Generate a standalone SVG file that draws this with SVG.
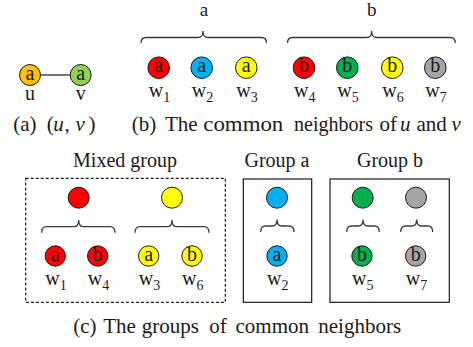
<svg xmlns="http://www.w3.org/2000/svg" width="473" height="347" viewBox="0 0 473 347">
<style>
text{font-family:"Liberation Serif","Times New Roman",serif;fill:#1a1a1a}
.c{font-size:21px}
.i{font-style:italic}
.in{font-size:20px;text-anchor:middle}
.lbl{font-size:20px;text-anchor:middle}
.top{font-size:19px;text-anchor:middle}
.sub{font-size:14px}
.n{stroke:#1a1a1a;stroke-width:1}
.br{fill:none;stroke:#3a3a3a;stroke-width:1.3}
.box{fill:none;stroke:#1a1a1a;stroke-width:1.2}
.dash{stroke-dasharray:3 2}
.edge{stroke:#555;stroke-width:1.6}
</style>
<rect width="473" height="347" fill="#fff"/>
<g id="connectors">
<line class="edge" x1="40" y1="75" x2="70" y2="75"/>
</g>
<!-- (a) -->
<g id="u"><circle class="n" cx="30" cy="75" r="10.5" fill="#FFC000"/><text class="in" x="30" y="79.5">a</text><text class="lbl" x="30" y="100">u</text></g>
<g id="v"><circle class="n" cx="80.7" cy="75" r="10.5" fill="#92D050"/><text class="in" x="80.7" y="79.5">a</text><text class="lbl" x="80.7" y="100">v</text></g>
<!-- (b) -->
<g id="brace-a"><path class="br" d="M141,43 Q141,37.5 146,37.5 L198,37.5 Q203,37.5 203,31 Q203,37.5 208,37.5 L261.5,37.5 Q266.5,37.5 266.5,43"/><text class="top" x="204" y="16">a</text></g>
<g id="brace-b"><path class="br" d="M287.5,43 Q287.5,37.5 292.5,37.5 L366.7,37.5 Q371.7,37.5 371.7,31 Q371.7,37.5 376.7,37.5 L450.3,37.5 Q455.3,37.5 455.3,43"/><text class="top" x="371.7" y="16">b</text></g>
<g id="w1"><circle class="n" cx="158.7" cy="67.7" r="10.8" fill="#FF0000"/><text class="in" x="158.7" y="72.2">a</text><text class="lbl" x="159.5" y="96.7">w<tspan class="sub" dy="5">1</tspan></text></g>
<g id="w2"><circle class="n" cx="201.7" cy="67.7" r="10.8" fill="#00B0F0"/><text class="in" x="201.7" y="72.2">a</text><text class="lbl" x="202.5" y="96.7">w<tspan class="sub" dy="5">2</tspan></text></g>
<g id="w3"><circle class="n" cx="246.3" cy="67.7" r="10.8" fill="#FFFF00"/><text class="in" x="246.3" y="72.2">a</text><text class="lbl" x="247.1" y="96.7">w<tspan class="sub" dy="5">3</tspan></text></g>
<g id="w4"><circle class="n" cx="304" cy="67.7" r="10.8" fill="#FF0000"/><text class="in" x="304" y="72.2">b</text><text class="lbl" x="304.8" y="96.7">w<tspan class="sub" dy="5">4</tspan></text></g>
<g id="w5"><circle class="n" cx="347.3" cy="67.7" r="10.8" fill="#00B050"/><text class="in" x="347.3" y="72.2">b</text><text class="lbl" x="348.1" y="96.7">w<tspan class="sub" dy="5">5</tspan></text></g>
<g id="w6"><circle class="n" cx="392.3" cy="67.7" r="10.8" fill="#FFFF00"/><text class="in" x="392.3" y="72.2">b</text><text class="lbl" x="393.1" y="96.7">w<tspan class="sub" dy="5">6</tspan></text></g>
<g id="w7"><circle class="n" cx="435.3" cy="67.7" r="10.8" fill="#A6A6A6"/><text class="in" x="435.3" y="72.2">b</text><text class="lbl" x="436.1" y="96.7">w<tspan class="sub" dy="5">7</tspan></text></g>
<!-- captions a, b -->
<text class="c" y="131.3"><tspan x="13.3">(a)</tspan><tspan x="46.7">(</tspan><tspan x="53.3" class="i">u</tspan><tspan x="64.5">,</tspan><tspan x="75.5" class="i">v</tspan><tspan x="88.5">)</tspan></text>
<text class="c" y="131.3" x="131.7">(b)</text>
<text class="c" y="131.3" x="165">The</text>
<text class="c" y="131.3" x="203.3" textLength="80" lengthAdjust="spacingAndGlyphs">common</text>
<text class="c" y="131.3" x="294" textLength="79" lengthAdjust="spacingAndGlyphs">neighbors</text>
<text class="c" y="131.3" x="379.5">of</text>
<text class="c i" y="131.3" x="400">u</text>
<text class="c" y="131.3" x="416.5">and</text>
<text class="c i" y="131.3" x="451.5">v</text>
<!-- (c) Mixed group -->
<g id="mixed-group">
<text class="lbl" x="125" y="166.7">Mixed group</text>
<rect class="box dash" x="25.7" y="178.3" width="199.6" height="124"/>
</g>
<g id="m-red"><circle class="n" cx="78.7" cy="197.7" r="10.5" fill="#FF0000"/><path class="br" d="M41.7,232.7 Q41.7,226.7 46.7,226.7 L73.7,226.7 Q78.7,226.7 78.7,220 Q78.7,226.7 83.7,226.7 L110,226.7 Q115,226.7 115,232.7"/></g>
<g id="m-yellow"><circle class="n" cx="172" cy="197.7" r="10.5" fill="#FFFF00"/><path class="br" d="M135,232.7 Q135,226.7 140,226.7 L167,226.7 Q172,226.7 172,220 Q172,226.7 177,226.7 L204,226.7 Q209,226.7 209,232.7"/></g>
<g id="m-w1"><circle class="n" cx="55.3" cy="256" r="10.2" fill="#FF0000"/><text class="in" x="55.3" y="260.5">a</text><text class="lbl" x="56.1" y="285">w<tspan class="sub" dy="5">1</tspan></text></g>
<g id="m-w4"><circle class="n" cx="97.7" cy="256" r="10.2" fill="#FF0000"/><text class="in" x="97.7" y="260.5">b</text><text class="lbl" x="98.5" y="285">w<tspan class="sub" dy="5">4</tspan></text></g>
<g id="m-w3"><circle class="n" cx="148.7" cy="256" r="10.2" fill="#FFFF00"/><text class="in" x="148.7" y="260.5">a</text><text class="lbl" x="149.5" y="285">w<tspan class="sub" dy="5">3</tspan></text></g>
<g id="m-w6"><circle class="n" cx="192" cy="256" r="10.2" fill="#FFFF00"/><text class="in" x="192" y="260.5">b</text><text class="lbl" x="192.8" y="285">w<tspan class="sub" dy="5">6</tspan></text></g>
<!-- Group a -->
<g id="group-a">
<text class="lbl" x="277" y="166.7">Group a</text>
<rect class="box" x="243.3" y="179" width="68.4" height="123.3"/>
<circle class="n" cx="277" cy="197.7" r="10.5" fill="#00B0F0"/>
<path class="br" d="M260.7,232 Q260.7,226 265.7,226 L272,226 Q277,226 277,219.5 Q277,226 282,226 L289,226 Q294,226 294,232"/>
</g>
<g id="g-w2"><circle class="n" cx="277" cy="256" r="10.2" fill="#00B0F0"/><text class="in" x="277" y="260.5">a</text><text class="lbl" x="277.8" y="285">w<tspan class="sub" dy="5">2</tspan></text></g>
<!-- Group b -->
<g id="group-b">
<text class="lbl" x="390" y="166.7">Group b</text>
<rect class="box" x="330" y="179" width="119.3" height="123.3"/>
<circle class="n" cx="362.7" cy="197.7" r="10.5" fill="#00B050"/>
<circle class="n" cx="416" cy="197.7" r="10.5" fill="#A6A6A6"/>
<path class="br" d="M346.7,232 Q346.7,226 351.7,226 L358,226 Q363,226 363,219.5 Q363,226 368,226 L374.3,226 Q379.3,226 379.3,232"/>
<path class="br" d="M400.7,232 Q400.7,226 405.7,226 L411.7,226 Q416.7,226 416.7,219.5 Q416.7,226 421.7,226 L427.7,226 Q432.7,226 432.7,232"/>
</g>
<g id="g-w5"><circle class="n" cx="362" cy="256" r="10.2" fill="#00B050"/><text class="in" x="362" y="260.5">b</text><text class="lbl" x="362.8" y="285">w<tspan class="sub" dy="5">5</tspan></text></g>
<g id="g-w7"><circle class="n" cx="415.7" cy="256" r="10.2" fill="#A6A6A6"/><text class="in" x="415.7" y="260.5">b</text><text class="lbl" x="416.5" y="285">w<tspan class="sub" dy="5">7</tspan></text></g>
<!-- caption c -->
<text class="c" y="332.5"><tspan x="73.3">(c)</tspan><tspan x="103.3">The</tspan><tspan x="141.7">groups</tspan><tspan x="209.3">of</tspan><tspan x="235.5">common</tspan><tspan x="318.3">neighbors</tspan></text>
</svg>
